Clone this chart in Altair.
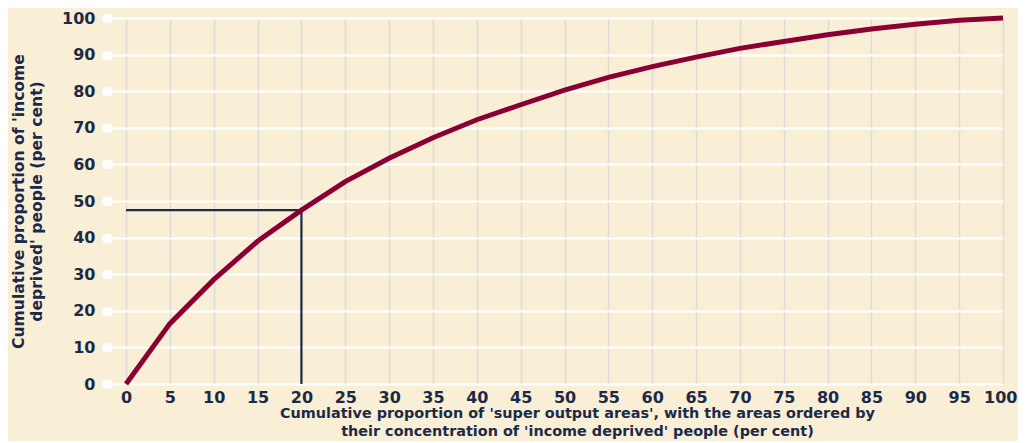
import altair as alt
import pandas as pd

# Data
area_pct = [0, 5, 10, 15, 20, 25, 30, 35, 40, 45, 50, 55, 60, 65, 70, 75, 80, 85, 90, 95, 100]
people_pct = [0, 16.5, 28.5, 39.0, 47.5, 55.3, 61.7, 67.3, 72.2, 76.3, 80.3, 83.8, 86.7, 89.3, 91.7, 93.6, 95.4, 97.0, 98.3, 99.4, 100]
x_ticks = list(range(0, 101, 5))
y_ticks = list(range(0, 101, 10))
ref_x = 20
ref_y = 47.5

BG = "#f9efd6"
NAVY = "#1c2a48"
LINE = "#8a0033"
FONT = "DejaVu Sans"

df = pd.DataFrame({"x": area_pct, "y": people_pct})
ref_h = pd.DataFrame({"x": [0], "x2": [ref_x], "y": [ref_y]})
ref_v = pd.DataFrame({"x": [ref_x], "y": [0], "y2": [ref_y]})

x_scale = alt.Scale(domain=[-1.6, 100], nice=False, zero=False)
y_scale = alt.Scale(domain=[0, 100], nice=False)

x_axis = alt.Axis(
    values=x_ticks, grid=True, gridColor="#dcd9d6", gridWidth=1.5,
    ticks=False, domain=False, labelFont=FONT, labelFontWeight="bold",
    labelFontSize=16, labelColor=NAVY, labelPadding=5, labelOverlap=False,
    labelFlush=5, labelFlushOffset=14,
    title=["Cumulative proportion of 'super output areas', with the areas ordered by",
           "their concentration of 'income deprived' people (per cent)"],
    titleFont=FONT, titleFontWeight="bold", titleFontSize=14.4, titleColor=NAVY,
    titleLineHeight=18, titlePadding=1, titleX=465, titleAnchor="middle",
)
y_axis = alt.Axis(
    values=y_ticks, grid=True, gridColor="white", gridWidth=2,
    ticks=True, tickColor="white", tickOpacity=1, tickSize=2, tickWidth=9,
    tickCap="round", offset=4, domain=False, labelFont=FONT,
    labelFontWeight="bold", labelFontSize=16, labelColor=NAVY,
    labelPadding=11, labelOverlap=False, labelFlush=False,
    title=["Cumulative proportion of 'income", "deprived' people (per cent)"],
    titleFont=FONT, titleFontWeight="bold", titleFontSize=15.6, titleColor=NAVY,
    titleLineHeight=18, titlePadding=17,
)

X = alt.X("x:Q", scale=x_scale, axis=x_axis)
Y = alt.Y("y:Q", scale=y_scale, axis=y_axis)

curve = alt.Chart(df).mark_line(color=LINE, strokeWidth=5, strokeCap="butt").encode(
    x=X, y=Y,
)

h_rule = alt.Chart(ref_h).mark_rule(color=NAVY, strokeWidth=2.2).encode(
    x=X, x2="x2:Q", y=Y
)
v_rule = alt.Chart(ref_v).mark_rule(color=NAVY, strokeWidth=2.2).encode(
    x=X, y=Y, y2="y2:Q"
)

chart = alt.layer(h_rule, v_rule, curve).properties(
    width=891, height=366,
    background=BG,
    autosize=alt.AutoSizeParams(type="none"),
    padding={"left": 104, "top": 10, "right": 15, "bottom": 57},
).configure_view(stroke=None, fill=BG)

chart.save("out.html", embed_options={"renderer": "svg", "actions": False})
